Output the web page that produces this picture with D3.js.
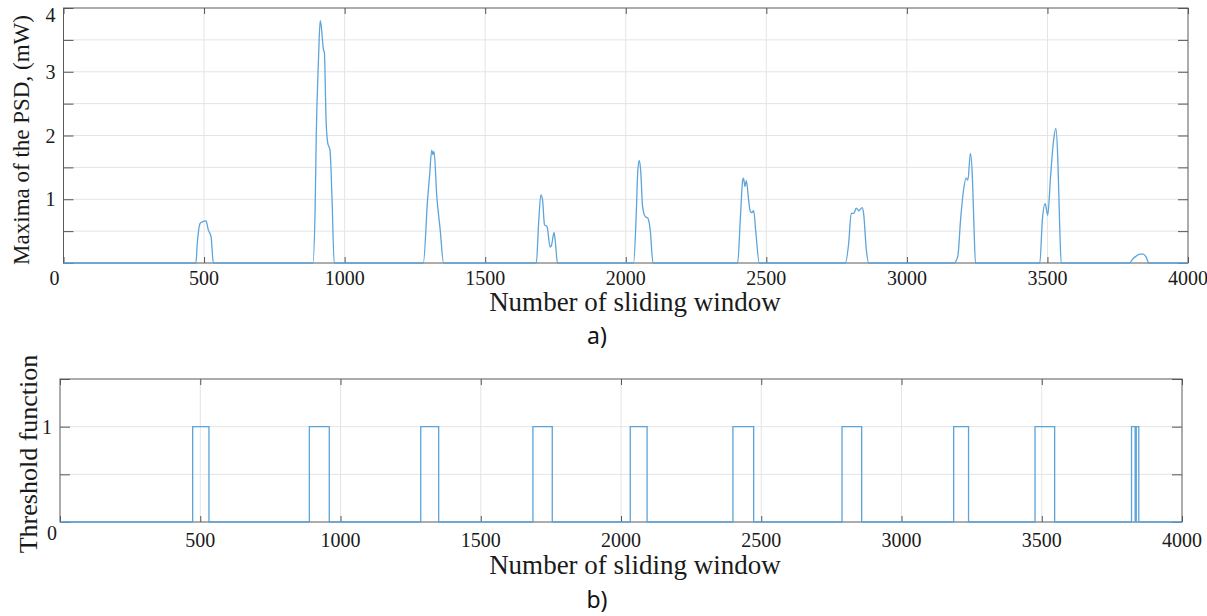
<!DOCTYPE html>
<html lang="en">
<head>
    <meta charset="UTF-8">
    <title>PSD maxima and threshold function</title>
    <style>
        body { margin: 0; background: #fff; }
        svg { display: block; }
        .grid line { stroke: #e4e4e4; stroke-width: 1; }
        .frame { fill: none; stroke: #5a5a5a; stroke-width: 1; }
        .series { fill: none; stroke: #5ca4da; stroke-width: 1.3; }
    </style>
</head>
<body>
<svg id="chart" width="1207" height="616"></svg>

<script src="https://d3js.org/d3.v7.min.js"></script>
<script>
    // x ticks shared by both panels
    var xTicks = [0, 500, 1000, 1500, 2000, 2500, 3000, 3500, 4000];

    // a) maxima of the PSD, breakpoints
    var psdWindow = [0, 471, 476, 486, 495, 507, 515, 525, 533,
        887, 895, 899, 907, 913, 916, 925, 928, 934, 940, 948, 955, 963,
        1280, 1295, 1302, 1310, 1314, 1318, 1328, 1340, 1352,
        1682, 1690, 1698, 1704, 1711, 1720, 1731, 1736, 1745, 1750, 1757,
        2028, 2037, 2043, 2048, 2053, 2060, 2069, 2079, 2087, 2097,
        2398, 2408, 2416, 2419, 2424, 2429, 2437, 2443, 2449, 2455, 2463, 2475,
        2781, 2793, 2802, 2811, 2820, 2829, 2841, 2846, 2856, 2864,
        3167, 3181, 3191, 3200, 3211, 3217, 3226, 3233, 3238, 3244,
        3473, 3482, 3492, 3501, 3511, 3522, 3530, 3537, 3543, 3549,
        3793, 3801, 3813, 3829, 3841, 3850, 3861, 4000];
    var psdValue = [0, 0, 0.31, 0.62, 0.65, 0.66, 0.52, 0.41, 0,
        0, 0.83, 1.98, 3.19, 3.8, 3.74, 3.34, 3.3, 2.24, 1.88, 1.77, 1.04, 0,
        0, 0.99, 1.36, 1.77, 1.7, 1.75, 1.04, 0.52, 0,
        0, 0.62, 1.07, 0.99, 0.6, 0.57, 0.25, 0.28, 0.48, 0.31, 0,
        0, 0.73, 1.46, 1.61, 1.46, 0.88, 0.73, 0.7, 0.52, 0,
        0, 0.73, 1.3, 1.33, 1.2, 1.29, 0.99, 0.81, 0.79, 0.82, 0.47, 0,
        0, 0.31, 0.78, 0.78, 0.86, 0.82, 0.87, 0.78, 0.2, 0,
        0, 0.1, 0.68, 1.09, 1.33, 1.3, 1.72, 1.35, 0.68, 0,
        0, 0.68, 0.93, 0.75, 1.35, 1.93, 2.11, 1.62, 0.68, 0,
        0, 0.05, 0.1, 0.14, 0.14, 0.1, 0, 0];
    var psdTicks = [0, 0.5, 1, 1.5, 2, 2.5, 3, 3.5, 4];
    var psdLabels = ["", "", "1", "", "2", "", "3", "", "4"];

    // b) threshold function, windows where it is 1
    var pulseStart = [473, 889, 1286, 1686, 2033, 2399, 2788, 3186, 3476, 3820, 3837];
    var pulseEnd = [531, 960, 1350, 1755, 2093, 2473, 2858, 3239, 3546, 3833, 3846];
    var thrTicks = [0, 0.5, 1, 1.5];
    var thrLabels = ["", "", "1", ""];

    var serif = "'Liberation Serif', 'Times New Roman', serif";
    var svg = d3.select("#chart");

    function drawPanel(opt) {
        var x = d3.scaleLinear().domain([0, 4000]).range([opt.left, opt.right]);
        var y = d3.scaleLinear().domain(opt.yDomain).range([opt.bottom, opt.top]);
        var g = svg.append("g");

        // grid
        g.append("g").attr("class", "grid")
            .selectAll("line").data(xTicks.slice(1, -1)).enter().append("line")
            .attr("x1", d => x(d)).attr("x2", d => x(d))
            .attr("y1", opt.top).attr("y2", opt.bottom);
        g.append("g").attr("class", "grid")
            .selectAll("line").data(opt.yTicks.slice(1, -1)).enter().append("line")
            .attr("x1", opt.left).attr("x2", opt.right)
            .attr("y1", d => y(d)).attr("y2", d => y(d));

        // ticks on all four sides, pointing inwards
        var axes = [
            d3.axisBottom(x).tickValues(xTicks).tickSize(-6).tickFormat(""),
            d3.axisTop(x).tickValues(xTicks).tickSize(-6).tickFormat(""),
            d3.axisLeft(y).tickValues(opt.yTicks).tickSize(-10).tickFormat(""),
            d3.axisRight(y).tickValues(opt.yTicks).tickSize(-10).tickFormat("")
        ];
        var shifts = ["translate(0," + opt.bottom + ")", "translate(0," + opt.top + ")",
            "translate(" + opt.left + ",0)", "translate(" + opt.right + ",0)"];
        axes.forEach(function(ax, i) {
            var a = g.append("g").attr("transform", shifts[i]).call(ax);
            a.select(".domain").remove();
            a.selectAll("line").attr("stroke", "#555");
        });
        g.append("rect").attr("class", "frame")
            .attr("x", opt.left).attr("y", opt.top)
            .attr("width", opt.right - opt.left).attr("height", opt.bottom - opt.top);

        // tick labels
        g.selectAll(".xl").data(xTicks).enter().append("text")
            .style("font-family", serif).style("font-size", "20px").attr("fill", "#1a1a1a")
            .attr("x", d => x(d) + (d === 0 ? opt.zeroDx : 0))
            .attr("y", d => d === 0 ? opt.zeroY : opt.xLabelY)
            .attr("text-anchor", "middle")
            .text(d => d);
        g.selectAll(".yl").data(opt.yTicks).enter().append("text")
            .style("font-family", serif).style("font-size", "20px").attr("fill", "#1a1a1a")
            .attr("x", opt.left - 8)
            .attr("y", d => Math.max(y(d) + 7, 22))
            .attr("text-anchor", "end")
            .text((d, i) => opt.yLabels[i]);

        // titles
        g.append("text")
            .style("font-family", serif).style("font-size", "27px").attr("fill", "#1a1a1a")
            .attr("x", 635).attr("y", opt.xTitleY)
            .attr("text-anchor", "middle")
            .text("Number of sliding window");
        g.append("text")
            .style("font-family", serif).style("font-size", opt.yTitleSize + "px").attr("fill", "#1a1a1a")
            .attr("transform", "translate(" + opt.yTitleX + "," + opt.yTitleY + ") rotate(-90)")
            .attr("text-anchor", "middle")
            .text(opt.yTitle);
        g.append("text")
            .style("font-family", "'Noto Sans', 'Liberation Sans', sans-serif").style("font-size", "23px")
            .attr("fill", "#111")
            .attr("x", 597).attr("y", opt.panelY)
            .attr("text-anchor", "middle")
            .text(opt.panel);

        // data line, clipped to the axes box
        var clipId = "clip-" + opt.panel.charAt(0);
        svg.append("clipPath").attr("id", clipId).append("rect")
            .attr("x", opt.left).attr("y", opt.top - 2)
            .attr("width", opt.right - opt.left).attr("height", opt.bottom - opt.top + 4);
        var line = d3.line().x(d => x(d[0])).y(d => y(d[1])).curve(opt.curve);
        g.append("path").attr("class", "series")
            .attr("clip-path", "url(#" + clipId + ")")
            .attr("d", line(opt.points));
    }

    // a) PSD maxima
    drawPanel({
        left: 63.5, right: 1188, top: 8, bottom: 263,
        yDomain: [0, 4], yTicks: psdTicks, yLabels: psdLabels,
        xLabelY: 285, zeroDx: -9, zeroY: 285, xTitleY: 311,
        yTitle: "Maxima of the PSD, (mW)", yTitleX: 29, yTitleY: 140, yTitleSize: 23,
        panel: "a)", panelY: 344,
        curve: d3.curveMonotoneX,
        points: psdWindow.map((w, i) => [w, psdValue[i]])
    });

    // b) threshold function as a step signal
    var steps = [[0, 0]];
    pulseStart.forEach(function(s, i) {
        steps.push([s, 0], [s, 1], [pulseEnd[i], 1], [pulseEnd[i], 0]);
    });
    steps.push([4000, 0]);

    drawPanel({
        left: 60, right: 1182, top: 379, bottom: 522,
        yDomain: [0, 1.5], yTicks: thrTicks, yLabels: thrLabels,
        xLabelY: 547, zeroDx: -8, zeroY: 540, xTitleY: 574,
        yTitle: "Threshold function", yTitleX: 37, yTitleY: 454, yTitleSize: 26,
        panel: "b)", panelY: 608,
        curve: d3.curveLinear,
        points: steps
    });
</script>

</body>
</html>
